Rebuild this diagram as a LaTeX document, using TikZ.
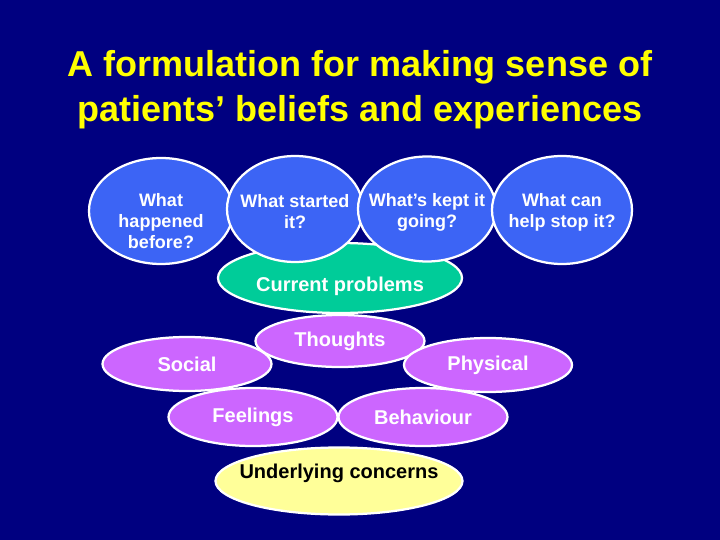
\documentclass[tikz,border=0pt]{standalone}
\usepackage{fontspec}
\setmainfont{Liberation Sans}
\usepackage{tikz}
\usetikzlibrary{shapes.geometric}
\usetikzlibrary{positioning}
\definecolor{slide}{RGB}{0,0,128}
\definecolor{qblue}{RGB}{60,100,245}
\definecolor{nowgreen}{RGB}{0,204,153}
\definecolor{cpurple}{RGB}{204,102,255}
\definecolor{cyellow}{RGB}{255,255,153}
\definecolor{ttl}{RGB}{255,255,0}
\tikzset{blob/.style={ellipse,draw=white,line width=2.25pt,inner sep=0pt,align=center,text=white,font=\bfseries\fontsize{18}{21}\selectfont}}

\begin{document}
\begin{tikzpicture}[x=1pt,y=-1pt]
\tikzset{query/.style={blob,fill=qblue}}
\tikzset{part/.style={blob,fill=cpurple,font=\bfseries\fontsize{20}{24}\selectfont}}
\tikzset{words/.style={align=center,inner sep=0pt,text=white,font=\bfseries\fontsize{18}{21}\selectfont}}

\fill[slide] (0,0) rectangle (720,540);
\useasboundingbox (0,0) rectangle (720,540);

% title
\node[anchor=base,text=ttl,font=\bfseries\fontsize{36}{43}\selectfont] (title1) at (360,77) {A formulation for making sense of};
\node[anchor=base,text=ttl,font=\bfseries\fontsize{36}{43}\selectfont] (title2) at (360,122) {patients’ beliefs and experiences};

% current problems sits behind the questions
\node[blob,fill=nowgreen,minimum width=244pt,minimum height=70pt] (now) at (340,278) {};
\node[words,font=\bfseries\fontsize{20}{24}\selectfont,yshift=-8pt] (nowT) at (now) {Current problems};

\node[query,minimum width=144pt,minimum height=106pt] (past) at (161,211) {};
\node[words,yshift=-10pt] (pastT) at (past) {What\\happened\\before?};
\node[query,minimum width=136pt,minimum height=106pt] (start) at (295,209) {};
\node[words,yshift=-3pt] (startT) at (start) {What started\\it?};
\node[query,minimum width=138pt,minimum height=105pt] (kept) at (427,209) {};
\node[words,yshift=-3pt] (keptT) at (kept) {What’s kept it\\going?};
\node[query,minimum width=140pt,minimum height=108pt] (help) at (562,210) {};
\node[words,yshift=-2pt] (helpT) at (help) {What can\\help stop it?};

% the five parts
\node[part,minimum width=169pt,minimum height=52pt] (thoughts) at (340,341) {Thoughts};
\node[part,minimum width=169pt,minimum height=54pt] (social) at (187,364) {Social};
\node[part,minimum width=168pt,minimum height=54pt] (physical) at (488,365) {Physical};
\node[part,minimum width=169pt,minimum height=58pt] (feelings) at (253,417) {Feelings};
\node[part,minimum width=169pt,minimum height=58pt] (behaviour) at (423,417) {Behaviour};

\node[blob,fill=cyellow,minimum width=247pt,minimum height=67pt] (under) at (339,481) {};
\node[words,text=black,font=\bfseries\fontsize{20}{24}\selectfont,yshift=8pt] (underT) at (under) {Underlying concerns};
\end{tikzpicture}
\end{document}
